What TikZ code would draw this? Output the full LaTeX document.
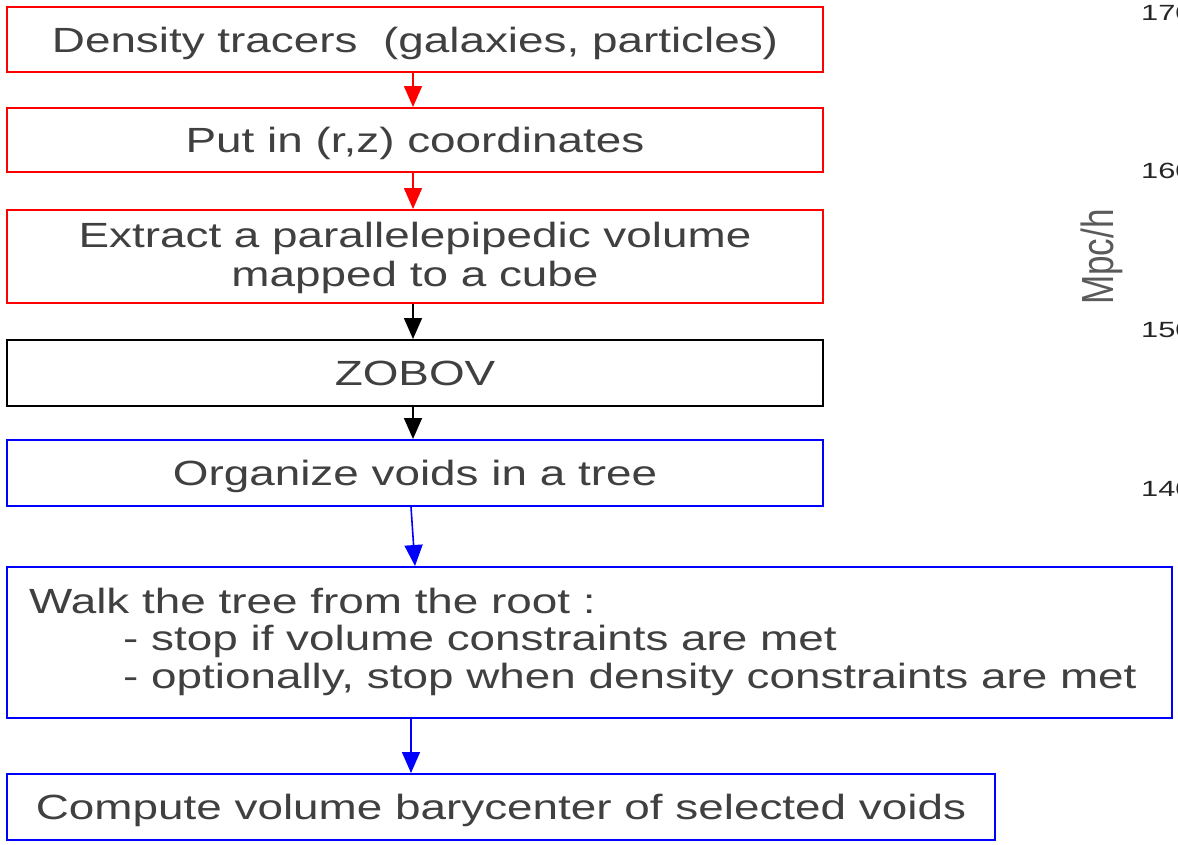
\documentclass[tikz,border=0pt]{standalone}
\usepackage{fontspec}
\setmainfont{Liberation Sans}
\newfontfamily\widesans[FakeStretch=1.31]{Liberation Sans}
\newfontfamily\tickfont[FakeStretch=1.4]{Liberation Sans}
\usetikzlibrary{arrows.meta}
\definecolor{txt}{RGB}{64,64,64}
\definecolor{axisgray}{RGB}{90,90,90}
\tikzset{
  stepbox/.style={draw=#1, line width=2pt, fill=white, inner sep=0pt, text depth=0pt,
    text=txt, font=\widesans\fontsize{35}{38}\selectfont, align=center},
  linetext/.style={anchor=base west, inner sep=0pt, text=txt, font=\widesans\fontsize{35}{38}\selectfont},
  flow/.style={draw=#1, line width=1.6pt, -{Triangle[width=18pt,length=21pt]}, fill=#1},
  ticklab/.style={anchor=base west, inner sep=0pt, text=black!85, font=\tickfont\fontsize{22}{22}\selectfont}
}
\begin{document}
\begin{tikzpicture}[x=1pt,y=-1pt]
\useasboundingbox (0,0) rectangle (1178,844);
\clip (0,0) rectangle (1178,844);

% processing chain
\node[stepbox=red, minimum width=816pt, minimum height=65pt] (b1) at (415,39.5)
  {Density tracers\ \ (galaxies, particles)};
\node[stepbox=red, minimum width=816pt, minimum height=64pt] (b2) at (415,140)
  {Put in (r,z) coordinates};
\node[stepbox=red, minimum width=816pt, minimum height=93pt] (b3) at (415,256.5) {};
\node[stepbox=black, minimum width=816pt, minimum height=66pt] (b4) at (415,373)
  {ZOBOV};
\node[stepbox=blue, minimum width=816pt, minimum height=66pt] (b5) at (415,473)
  {Organize voids in a tree};
\node[stepbox=blue, minimum width=1165pt, minimum height=151pt] (b6) at (589.5,642.5) {};
\node[stepbox=blue, minimum width=988pt, minimum height=66pt] (b7) at (501,807)
  {Compute volume barycenter of selected voids};

% two-line text of the extraction step
\node[linetext, anchor=base] (e1) at (415,247) {Extract a parallelepipedic volume};
\node[linetext, anchor=base] (e2) at (415,286) {mapped to a cube};

% text of the tree walk
\node[linetext] (w1) at (29,613) {Walk the tree from the root :};
\node[linetext] (w2) at (123,650) {- stop if volume constraints are met};
\node[linetext] (w3) at (123,688) {- optionally, stop when density constraints are met};

% connectors
\draw[flow=red] (b1.south -| 413,0) -- (b2.north -| 413,0);
\draw[flow=red] (b2.south -| 413,0) -- (b3.north -| 413,0);
\draw[flow=black] (b3.south -| 413,0) -- (b4.north -| 413,0);
\draw[flow=black] (b4.south -| 413,0) -- (b5.north -| 413,0);
\draw[flow=blue] (b5.south -| 411,0) -- (b6.north -| 415,0);
\draw[flow=blue] (b6.south -| 411,0) -- (b7.north -| 411,0);

% axis fragment at the right edge
\node[rotate=90, inner sep=0pt, text=axisgray, xscale=0.78, font=\fontsize{45}{45}\selectfont] (unit) at (1102,257) {Mpc/h};
\node[ticklab] (t170) at (1141,20) {170};
\node[ticklab] (t160) at (1141,178) {160};
\node[ticklab] (t150) at (1141,337) {150};
\node[ticklab] (t140) at (1141,496) {140};
\end{tikzpicture}
\end{document}
